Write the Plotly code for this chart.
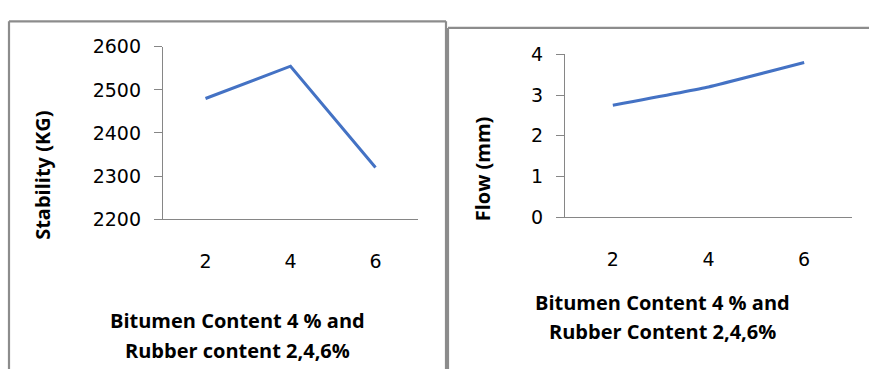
import plotly.graph_objects as go

W, H = 869, 379

rubber = ["2", "4", "6"]
stability = [2480, 2555, 2320]
flow = [2.75, 3.2, 3.8]

stab_ticks = [2200, 2300, 2400, 2500, 2600]
flow_ticks = [0, 1, 2, 3, 4]

LINE = "#4472C4"
AX = "#868686"

def px(x):
    return x / W

def py(y):
    return 1 - y / H

fig = go.Figure()
fig.add_trace(go.Scatter(x=rubber, y=stability, mode="lines",
                         line=dict(color=LINE, width=3), xaxis="x", yaxis="y",
                         showlegend=False))
fig.add_trace(go.Scatter(x=rubber, y=flow, mode="lines",
                         line=dict(color=LINE, width=3, shape="spline", smoothing=0.3),
                         xaxis="x2", yaxis="y2", showlegend=False))

tickfont = dict(family="DejaVu Sans", size=19, color="#000000")

common_x = dict(type="category", showline=True, linecolor=AX, linewidth=1.3,
                ticks="", showgrid=False, zeroline=False, tickfont=tickfont,
                ticklabelstandoff=25, fixedrange=True)
common_y = dict(showline=True, linecolor=AX, linewidth=1.3, ticks="outside",
                ticklen=8, tickcolor=AX, tickwidth=1.3, showgrid=False,
                zeroline=False, tickfont=tickfont, ticklabelstandoff=9,
                fixedrange=True)

fig.update_layout(
    width=W, height=H,
    margin=dict(l=0, r=0, t=0, b=0),
    paper_bgcolor="white", plot_bgcolor="white",
    xaxis=dict(common_x, domain=[px(163), px(418)], anchor="y",
               range=[-0.5, 2.5]),
    yaxis=dict(common_y, domain=[py(221), py(38)], anchor="x",
               range=[2200, 2600], tickvals=stab_ticks),
    xaxis2=dict(common_x, domain=[px(565), px(852)], anchor="y2",
                range=[-0.5, 2.5]),
    yaxis2=dict(common_y, domain=[py(219), py(46)], anchor="x2",
                range=[0, 4], tickvals=flow_ticks),
)

titlefont = dict(family="Open Sans", size=20, color="#000000", weight="bold")

annotations = [
    dict(text="Stability (KG)", x=px(43), y=py(175), textangle=-90),
    dict(text="Bitumen Content 4 % and", x=px(238), y=py(329)),
    dict(text="Rubber content 2,4,6%", x=px(238), y=py(360)),
    dict(text="Flow (mm)", x=px(482), y=py(168), textangle=-90),
    dict(text="Bitumen Content 4 % and", x=px(662), y=py(309)),
    dict(text="Rubber Content 2,4,6%", x=px(662), y=py(340)),
]
for a in annotations:
    fig.add_annotation(xref="paper", yref="paper", showarrow=False,
                       xanchor="center", yanchor="middle", font=titlefont, **a)

BORDER = dict(color="#8c8c8c", width=2.2)
shapes = [
    ((9, 380), (9, 11)),
    ((9, 11), (446, 11)),
    ((446, 11), (446, 380)),
    ((448, 380), (448, 18)),
    ((448, 18), (870, 18)),
]
for (x0, y0), (x1, y1) in shapes:
    fig.add_shape(type="line", xref="paper", yref="paper",
                  x0=px(x0), y0=py(y0), x1=px(x1), y1=py(y1), line=BORDER)

fig.write_html("out.html")
